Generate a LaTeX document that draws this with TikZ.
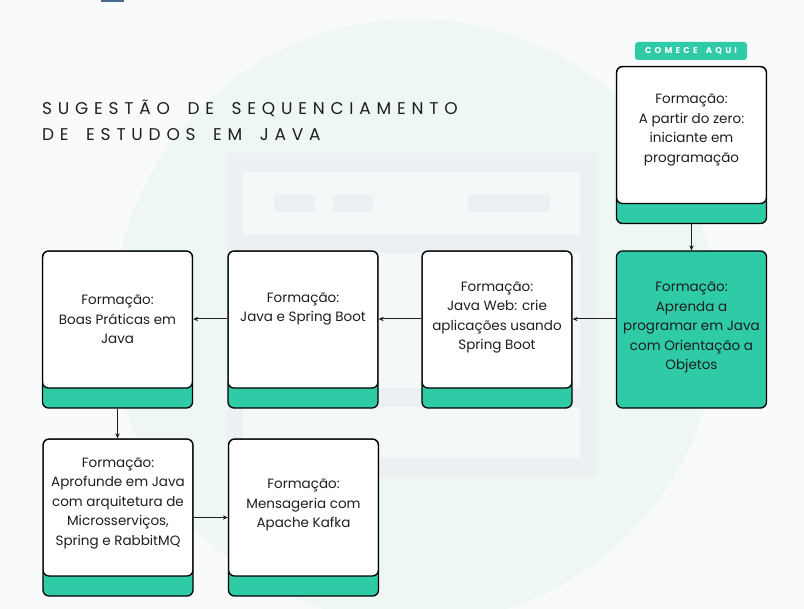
\documentclass[tikz,border=0pt]{standalone}
\usepackage{fontspec}
\setmainfont{Poppins}
\newfontfamily\titlefont[LetterSpace=34,WordSpace=1.7]{Poppins}
\usetikzlibrary{arrows.meta}

\begin{document}
\begin{tikzpicture}[x=1pt,y=-1pt,
  box/.style={draw=black,line width=1.3pt,rounded corners=6pt,fill=teal1,minimum width=150pt,minimum height=157pt,inner sep=0pt},
  card/.style={box,path picture={\draw[fill=white,line width=1.3pt,rounded corners=6pt] (path picture bounding box.north west) rectangle ([yshift=20pt]path picture bounding box.south east);}},
  txt/.style={align=center,inner sep=0pt,text=ink,font=\fontsize{13.5}{19.5}\selectfont},
  flow/.style={draw=ink,line width=1pt,-{Stealth[length=5pt,width=4.5pt]}},
  badge/.style={fill=teal1,rounded corners=3pt,minimum width=112pt,minimum height=18pt,inner sep=0pt,text=white,font=\fontsize{8.5}{9}\selectfont\bfseries\addfontfeatures{LetterSpace=38}}
]
\definecolor{bgc}{RGB}{248,250,252}
\definecolor{circ}{RGB}{238,247,244}
\definecolor{wing}{RGB}{237,240,243}
\definecolor{winl}{RGB}{244,248,248}
\definecolor{teal1}{RGB}{47,203,166}
\definecolor{ink}{RGB}{30,30,30}
\definecolor{tabblue}{RGB}{75,105,145}
\useasboundingbox (0,0) rectangle (804,609);
% background
\fill[bgc] (0,0) rectangle (804,609);
\begin{scope}
\clip (0,0) rectangle (804,609);
\fill[circ] (415,321) circle [radius=302pt];
\end{scope}
\fill[tabblue] (101,0) rectangle (124,2);
% window watermark
\fill[wing] (227,153) rectangle (597,477);
\fill[winl] (243,172) rectangle (580,235);
\fill[wing] (274,195) rectangle (315,212);
\fill[wing] (333,195) rectangle (373,212);
\fill[wing] (468,195) rectangle (550,212);
\fill[winl] (243,253) rectangle (580,458);
\fill[wing] (243,388) rectangle (580,407);
% title
\node[anchor=north west,align=left,inner sep=0pt,text=ink,font=\titlefont\fontsize{17}{26}\selectfont] (v0) at (42,100) {SUGESTÃO DE SEQUENCIAMENTO\\DE ESTUDOS EM JAVA};
\node[badge] (b1) at (691,51) {COMECE\hspace{3pt} AQUI};
% boxes
\node[card] (v1) at (691.5,145) {};
\node[box] (v2) at (691.5,329.5) {};
\node[card] (v3) at (497,329.5) {};
\node[card] (v4) at (303,329.5) {};
\node[card] (v5) at (117.5,329.5) {};
\node[card] (v6) at (118,517.5) {};
\node[card] (v7) at (303.5,517.5) {};
% texts
\node[txt] (t1) at (691.5,130) {Formação:\\A partir do zero:\\iniciante em\\programação};
\node[txt] (t2) at (691.5,327.5) {Formação:\\Aprenda a\\programar em Java\\com Orientação a\\Objetos};
\node[txt] (t3) at (497,317.5) {Formação:\\Java Web: crie\\aplicações usando\\Spring Boot};
\node[txt] (t4) at (303,309) {Formação:\\Java e Spring Boot};
\node[txt] (t5) at (117.5,319.5) {Formação:\\Boas Práticas em\\Java};
\node[txt] (t6) at (118,503.5) {Formação:\\Aprofunde em Java\\com arquitetura de\\Microsserviços,\\Spring e RabbitMQ};
\node[txt] (t7) at (303.5,505) {Formação:\\Mensageria com\\Apache Kafka};
% arrows
\draw[flow] (v1) -- (v2);
\draw[flow] ([yshift=10.5pt]v2.west) -- ([yshift=10.5pt]v3.east);
\draw[flow] ([yshift=10.5pt]v3.west) -- ([yshift=10.5pt]v4.east);
\draw[flow] ([yshift=10.5pt]v4.west) -- ([yshift=10.5pt]v5.east);
\draw[flow] (v5.south) -- (v5.south |- v6.north);
\draw[flow] (v6) -- (v7);
\end{tikzpicture}
\end{document}
